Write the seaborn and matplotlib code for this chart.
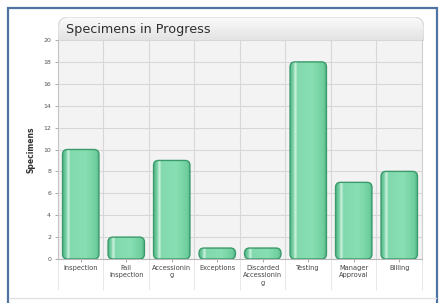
import numpy as np
import pandas as pd
import matplotlib
matplotlib.use("Agg")
import matplotlib.pyplot as plt
import seaborn as sns
from matplotlib.patches import FancyBboxPatch, Rectangle
from matplotlib.lines import Line2D
from matplotlib.colors import LinearSegmentedColormap

categories = ["Inspection", "Fail\nInspection", "Accessionin\ng", "Exceptions",
              "Discarded\nAccessionin\ng", "Testing", "Manager\nApproval", "Billing"]
values = [10, 2, 9, 1, 1, 18, 7, 8]
yticks = list(range(0, 21, 2))
title = "Specimens in Progress"
ylabel = "Specimens"

sns.set_theme(style="white")
plt.rcParams['font.family'] = ['DejaVu Sans']

W, H = 441, 303
fig = plt.figure(figsize=(W / 100, H / 100), dpi=100)
fig.patch.set_facecolor("white")

# outer frame
fig.add_artist(Rectangle((8 / W, -0.05), (437 - 8) / W, (303 - 8) / H + 0.05,
                         transform=fig.transFigure, fill=False,
                         edgecolor='#4f74a3', linewidth=1.6))
fig.add_artist(Line2D([9 / W, 436 / W], [5 / H, 5 / H], transform=fig.transFigure,
                      color='#e2e2e2', linewidth=1.0))

# header
hx0, hx1, hy0, hy1 = 58, 424, 17, 41
hax = fig.add_axes([hx0 / W, (H - hy1) / H, (hx1 - hx0) / W, (hy1 - hy0) / H])
hax.set_axis_off()
hax.set_xlim(0, 1)
hax.set_ylim(0, 1)
grad = np.linspace(0, 1, 64).reshape(-1, 1)
hcmap = LinearSegmentedColormap.from_list("h", ["#fbfbfb", "#e2e2e2"])
im = hax.imshow(grad, cmap=hcmap, extent=[0, 1, 0, 1], aspect='auto', origin='upper')
clip = FancyBboxPatch((0, -0.5), 1, 1.5, boxstyle="round,pad=0,rounding_size=0.03",
                      mutation_aspect=(366 / 24), transform=hax.transData,
                      facecolor='none', edgecolor='#d6d6d6', linewidth=0.8)
hax.add_patch(clip)
im.set_clip_path(clip)
hax.text(8 / (hx1 - hx0), 0.5, title, fontsize=9.2, color='#2e2e2e',
         va='center', ha='left', transform=hax.transAxes)

# main axes
ax = fig.add_axes([58 / W, (H - 259) / H, (422 - 58) / W, (259 - 40) / H])
ax.set_facecolor('#f3f3f3')
df = pd.DataFrame({"cat": categories, "val": values})
sns.barplot(data=df, x="cat", y="val", order=categories, color="#80dcae",
            width=0.8, ax=ax)

ax.set_ylim(0, 20)
ax.set_xlim(-0.5, len(categories) - 0.5)
ax.set_yticks(yticks)
ax.set_yticklabels([str(t) for t in yticks])

# stylize bars
cmap = LinearSegmentedColormap.from_list(
    "bar", [(0.0, "#58bb8a"), (0.08, "#78d2a4"), (0.14, "#cdf2de"), (0.2, "#82d9ad"),
            (0.6, "#88dfb3"), (0.9, "#70cf9f"), (1.0, "#55b586")])
bar_grad = np.linspace(0, 1, 100).reshape(1, -1)
px_x = 364 / len(categories)
px_y = 219 / 20
for p in list(ax.patches):
    x, y = p.get_x(), p.get_y()
    w, h = p.get_width(), p.get_height()
    p.set_visible(False)
    rs = 5 / px_x
    fb = FancyBboxPatch((x, y), w, h, boxstyle=f"round,pad=0,rounding_size={rs}",
                        mutation_aspect=px_x / px_y, facecolor='none',
                        edgecolor='#3a9a6b', linewidth=1.0, zorder=3)
    ax.add_patch(fb)
    bim = ax.imshow(bar_grad, cmap=cmap, extent=[x, x + w, y, y + h],
                    aspect='auto', zorder=2)
    bim.set_clip_path(fb)
ax.set_aspect('auto')
ax.set_xlim(-0.5, len(categories) - 0.5)
ax.set_ylim(0, 20)

ax.set_xlabel("")
ax.set_ylabel(ylabel, fontsize=5.5, fontweight='bold', color='#333333')
ax.yaxis.set_label_coords(-(58 - 36) / 364, 0.5)

ax.set_xticks(np.arange(-0.5, len(categories), 1), minor=True)
ax.grid(axis='y', which='major', color='#d7d7d7', linewidth=0.8)
ax.grid(axis='x', which='minor', color='#d7d7d7', linewidth=0.8)
ax.set_axisbelow(True)
ax.tick_params(axis='x', which='major', length=2, width=0.6, color='#999999',
               labelsize=4.8, labelcolor='#444444', pad=2, bottom=True)
ax.tick_params(axis='x', which='minor', length=22, width=0.7, color='#e8e8e8', bottom=True)
ax.tick_params(axis='y', which='major', length=2, width=0.6, color='#999999',
               labelsize=4.5, labelcolor='#555555', pad=3, left=True)
for lab in ax.get_xticklabels():
    lab.set_linespacing(1.3)
ax.spines['top'].set_visible(False)
ax.spines['left'].set_color('#c4c4c4')
ax.spines['bottom'].set_color('#b8b8b8')
ax.spines['right'].set_color('#d0d0d0')
for s in ['left', 'bottom', 'right']:
    ax.spines[s].set_linewidth(0.8)

fig.savefig("out.png", dpi=100)
